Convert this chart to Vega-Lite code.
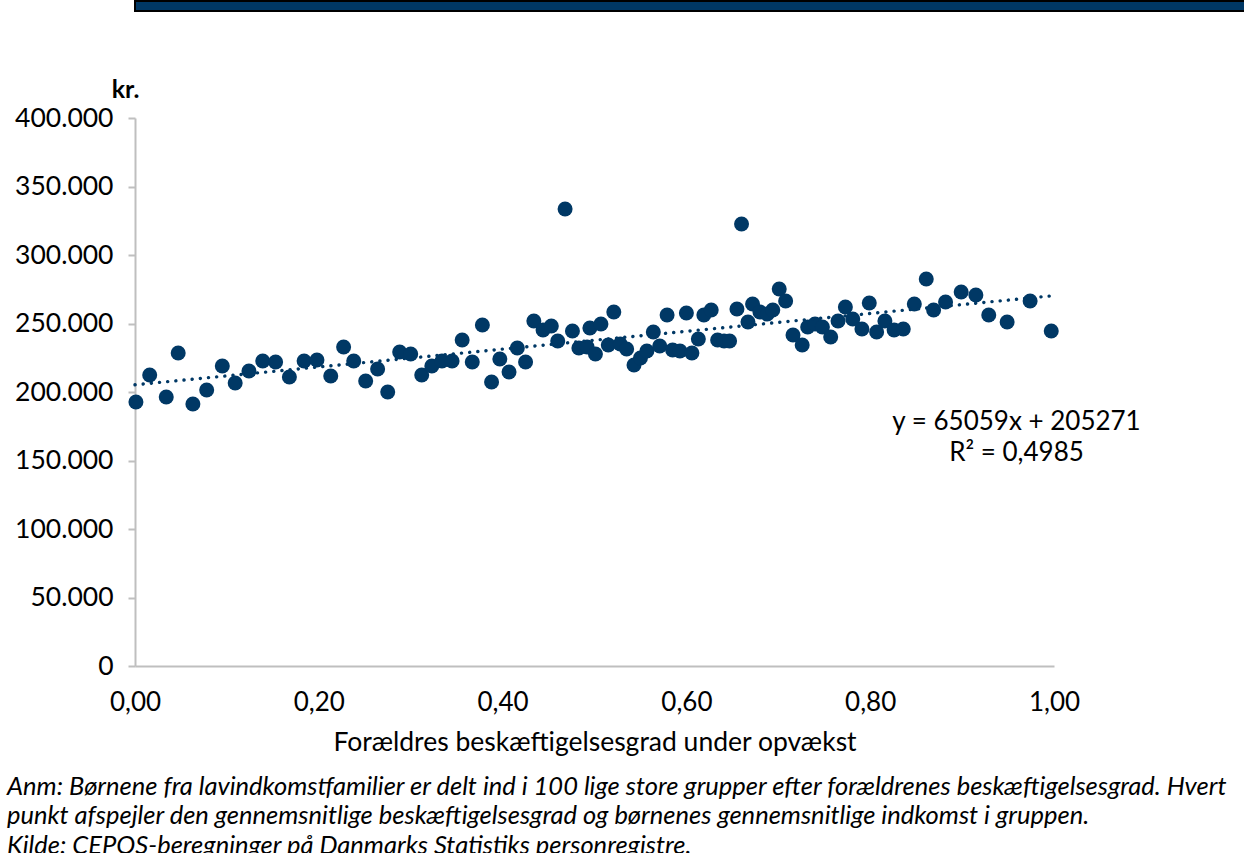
{
  "$schema": "https://vega.github.io/schema/vega-lite/v6.json",
  "padding": {"left": 7, "top": 0, "right": 0, "bottom": 0},
  "background": "white",
  "spacing": 65,
  "columns": 1,
  "align": "none",
  "config": {
    "font": "Lato",
    "locale": {"number": {"decimal": ",", "thousands": ".", "grouping": [3], "currency": ["", " kr."]}},
    "axis": {"grid": false, "labelColor": "#000000", "titleColor": "#000000", "labelFont": "Lato", "titleFont": "Lato", "labelFlush": false}
  },
  "datasets": {
    "points": [
      {"x": 0.001, "y": 192700}, {"x": 0.016, "y": 212400}, {"x": 0.034, "y": 196400}, {"x": 0.047, "y": 228500},
      {"x": 0.063, "y": 191200}, {"x": 0.078, "y": 201500}, {"x": 0.095, "y": 219000}, {"x": 0.109, "y": 206600},
      {"x": 0.124, "y": 215300}, {"x": 0.139, "y": 222600}, {"x": 0.153, "y": 221900}, {"x": 0.168, "y": 210900},
      {"x": 0.184, "y": 222600}, {"x": 0.198, "y": 223400}, {"x": 0.213, "y": 211700}, {"x": 0.227, "y": 232800},
      {"x": 0.238, "y": 222600}, {"x": 0.251, "y": 208000}, {"x": 0.264, "y": 216800}, {"x": 0.275, "y": 200000},
      {"x": 0.288, "y": 229200}, {"x": 0.300, "y": 227700}, {"x": 0.312, "y": 212400}, {"x": 0.323, "y": 219000},
      {"x": 0.334, "y": 222600}, {"x": 0.345, "y": 222600}, {"x": 0.356, "y": 238000}, {"x": 0.367, "y": 221900},
      {"x": 0.378, "y": 248900}, {"x": 0.388, "y": 207300}, {"x": 0.397, "y": 224100}, {"x": 0.407, "y": 214600},
      {"x": 0.416, "y": 232100}, {"x": 0.425, "y": 221900}, {"x": 0.434, "y": 251800}, {"x": 0.444, "y": 245300},
      {"x": 0.453, "y": 248200}, {"x": 0.460, "y": 237200}, {"x": 0.468, "y": 333600}, {"x": 0.476, "y": 244500},
      {"x": 0.483, "y": 232100}, {"x": 0.492, "y": 232800}, {"x": 0.495, "y": 246700}, {"x": 0.501, "y": 227700},
      {"x": 0.507, "y": 249600}, {"x": 0.515, "y": 234300}, {"x": 0.521, "y": 258400}, {"x": 0.528, "y": 235000},
      {"x": 0.535, "y": 231400}, {"x": 0.543, "y": 219700}, {"x": 0.550, "y": 224800}, {"x": 0.557, "y": 229900},
      {"x": 0.564, "y": 243800}, {"x": 0.571, "y": 233600}, {"x": 0.579, "y": 256200}, {"x": 0.585, "y": 230700},
      {"x": 0.593, "y": 229900}, {"x": 0.600, "y": 257700}, {"x": 0.606, "y": 228500}, {"x": 0.613, "y": 238700},
      {"x": 0.619, "y": 256200}, {"x": 0.627, "y": 259900}, {"x": 0.634, "y": 238000}, {"x": 0.641, "y": 237200},
      {"x": 0.647, "y": 237200}, {"x": 0.655, "y": 260600}, {"x": 0.660, "y": 322600}, {"x": 0.667, "y": 251100},
      {"x": 0.672, "y": 264200}, {"x": 0.680, "y": 258400}, {"x": 0.688, "y": 256900}, {"x": 0.694, "y": 259900},
      {"x": 0.701, "y": 275200}, {"x": 0.708, "y": 266400}, {"x": 0.716, "y": 241600}, {"x": 0.726, "y": 234300},
      {"x": 0.732, "y": 247400}, {"x": 0.740, "y": 249600}, {"x": 0.748, "y": 247400}, {"x": 0.757, "y": 240100},
      {"x": 0.765, "y": 251800}, {"x": 0.773, "y": 262000}, {"x": 0.781, "y": 253300}, {"x": 0.791, "y": 246000},
      {"x": 0.799, "y": 265000}, {"x": 0.807, "y": 243800}, {"x": 0.816, "y": 251800}, {"x": 0.826, "y": 245300},
      {"x": 0.836, "y": 246000}, {"x": 0.848, "y": 264200}, {"x": 0.861, "y": 282500}, {"x": 0.869, "y": 259900},
      {"x": 0.882, "y": 265700}, {"x": 0.899, "y": 273000}, {"x": 0.915, "y": 270800}, {"x": 0.929, "y": 256200},
      {"x": 0.949, "y": 251100}, {"x": 0.974, "y": 266400}, {"x": 0.997, "y": 244500}
    ],
    "trend": [
      {"x": 0, "y": 205271},
      {"x": 1, "y": 270330}
    ],
    "empty": []
  },
  "concat": [
    {
      "width": 1240,
      "height": 10,
      "view": {"fill": "#003865", "stroke": "#000000", "strokeWidth": 2},
      "data": {"name": "empty"},
      "mark": {"type": "text"}
    },
    {
      "width": 919,
      "height": 548,
      "view": {"stroke": null},
      "title": {
        "text": [
          "Anm: Børnene fra lavindkomstfamilier er delt ind i 100 lige store grupper efter forældrenes beskæftigelsesgrad. Hvert",
          "punkt afspejler den gennemsnitlige beskæftigelsesgrad og børnenes gennemsnitlige indkomst i gruppen.",
          "Kilde: CEPOS-beregninger på Danmarks Statistiks personregistre."
        ],
        "orient": "bottom",
        "anchor": "start",
        "frame": "group",
        "dx": -128,
        "offset": 19,
        "font": "Lato",
        "fontSize": 25.5,
        "fontStyle": "italic",
        "fontWeight": "normal",
        "color": "#000000",
        "lineHeight": 29.5
      },
      "layer": [
        {
          "data": {"name": "points"},
          "mark": {"type": "circle", "size": 225, "color": "#003865", "opacity": 1},
          "encoding": {
            "x": {
              "field": "x", "type": "quantitative",
              "scale": {"domain": [0, 1], "nice": false, "zero": false},
              "axis": {
                "values": [0, 0.2, 0.4, 0.6, 0.8, 1],
                "format": ".2f",
                "title": "Forældres beskæftigelsesgrad under opvækst",
                "domainColor": "#BFBFBF", "domainWidth": 2,
                "ticks": false, "tickSize": 0,
                "labelFontSize": 26, "labelPadding": 23,
                "titleFontSize": 26.5, "titleFontWeight": "normal", "titlePadding": 14
              }
            },
            "y": {
              "field": "y", "type": "quantitative",
              "scale": {"domain": [0, 400000], "nice": false},
              "axis": {
                "values": [0, 50000, 100000, 150000, 200000, 250000, 300000, 350000, 400000],
                "format": ",.0f",
                "title": "kr.",
                "titleAngle": 0, "titleFontWeight": "bold", "titleFontSize": 25,
                "titleX": -10, "titleY": -21, "titleAlign": "center", "titleBaseline": "alphabetic",
                "domainColor": "#BFBFBF", "domainWidth": 2,
                "tickColor": "#BFBFBF", "tickWidth": 2, "tickSize": 7,
                "labelFontSize": 26.5, "labelPadding": 15
              }
            }
          }
        },
        {
          "data": {"name": "trend"},
          "mark": {"type": "line", "color": "#003865", "strokeWidth": 3.4, "strokeDash": [0.1, 8.1], "strokeCap": "round"},
          "encoding": {
            "x": {"field": "x", "type": "quantitative"},
            "y": {"field": "y", "type": "quantitative"}
          }
        },
        {
          "data": {"name": "trend"},
          "transform": [{"filter": "datum.x == 1"}],
          "mark": {
            "type": "text",
            "text": ["y = 65059x + 205271", "R² = 0,4985"],
            "font": "Lato", "fontSize": 26, "lineHeight": 31,
            "align": "center", "baseline": "alphabetic", "color": "#000000"
          },
          "encoding": {
            "x": {"datum": 0.9592},
            "y": {"datum": 172300}
          }
        }
      ]
    }
  ]
}
